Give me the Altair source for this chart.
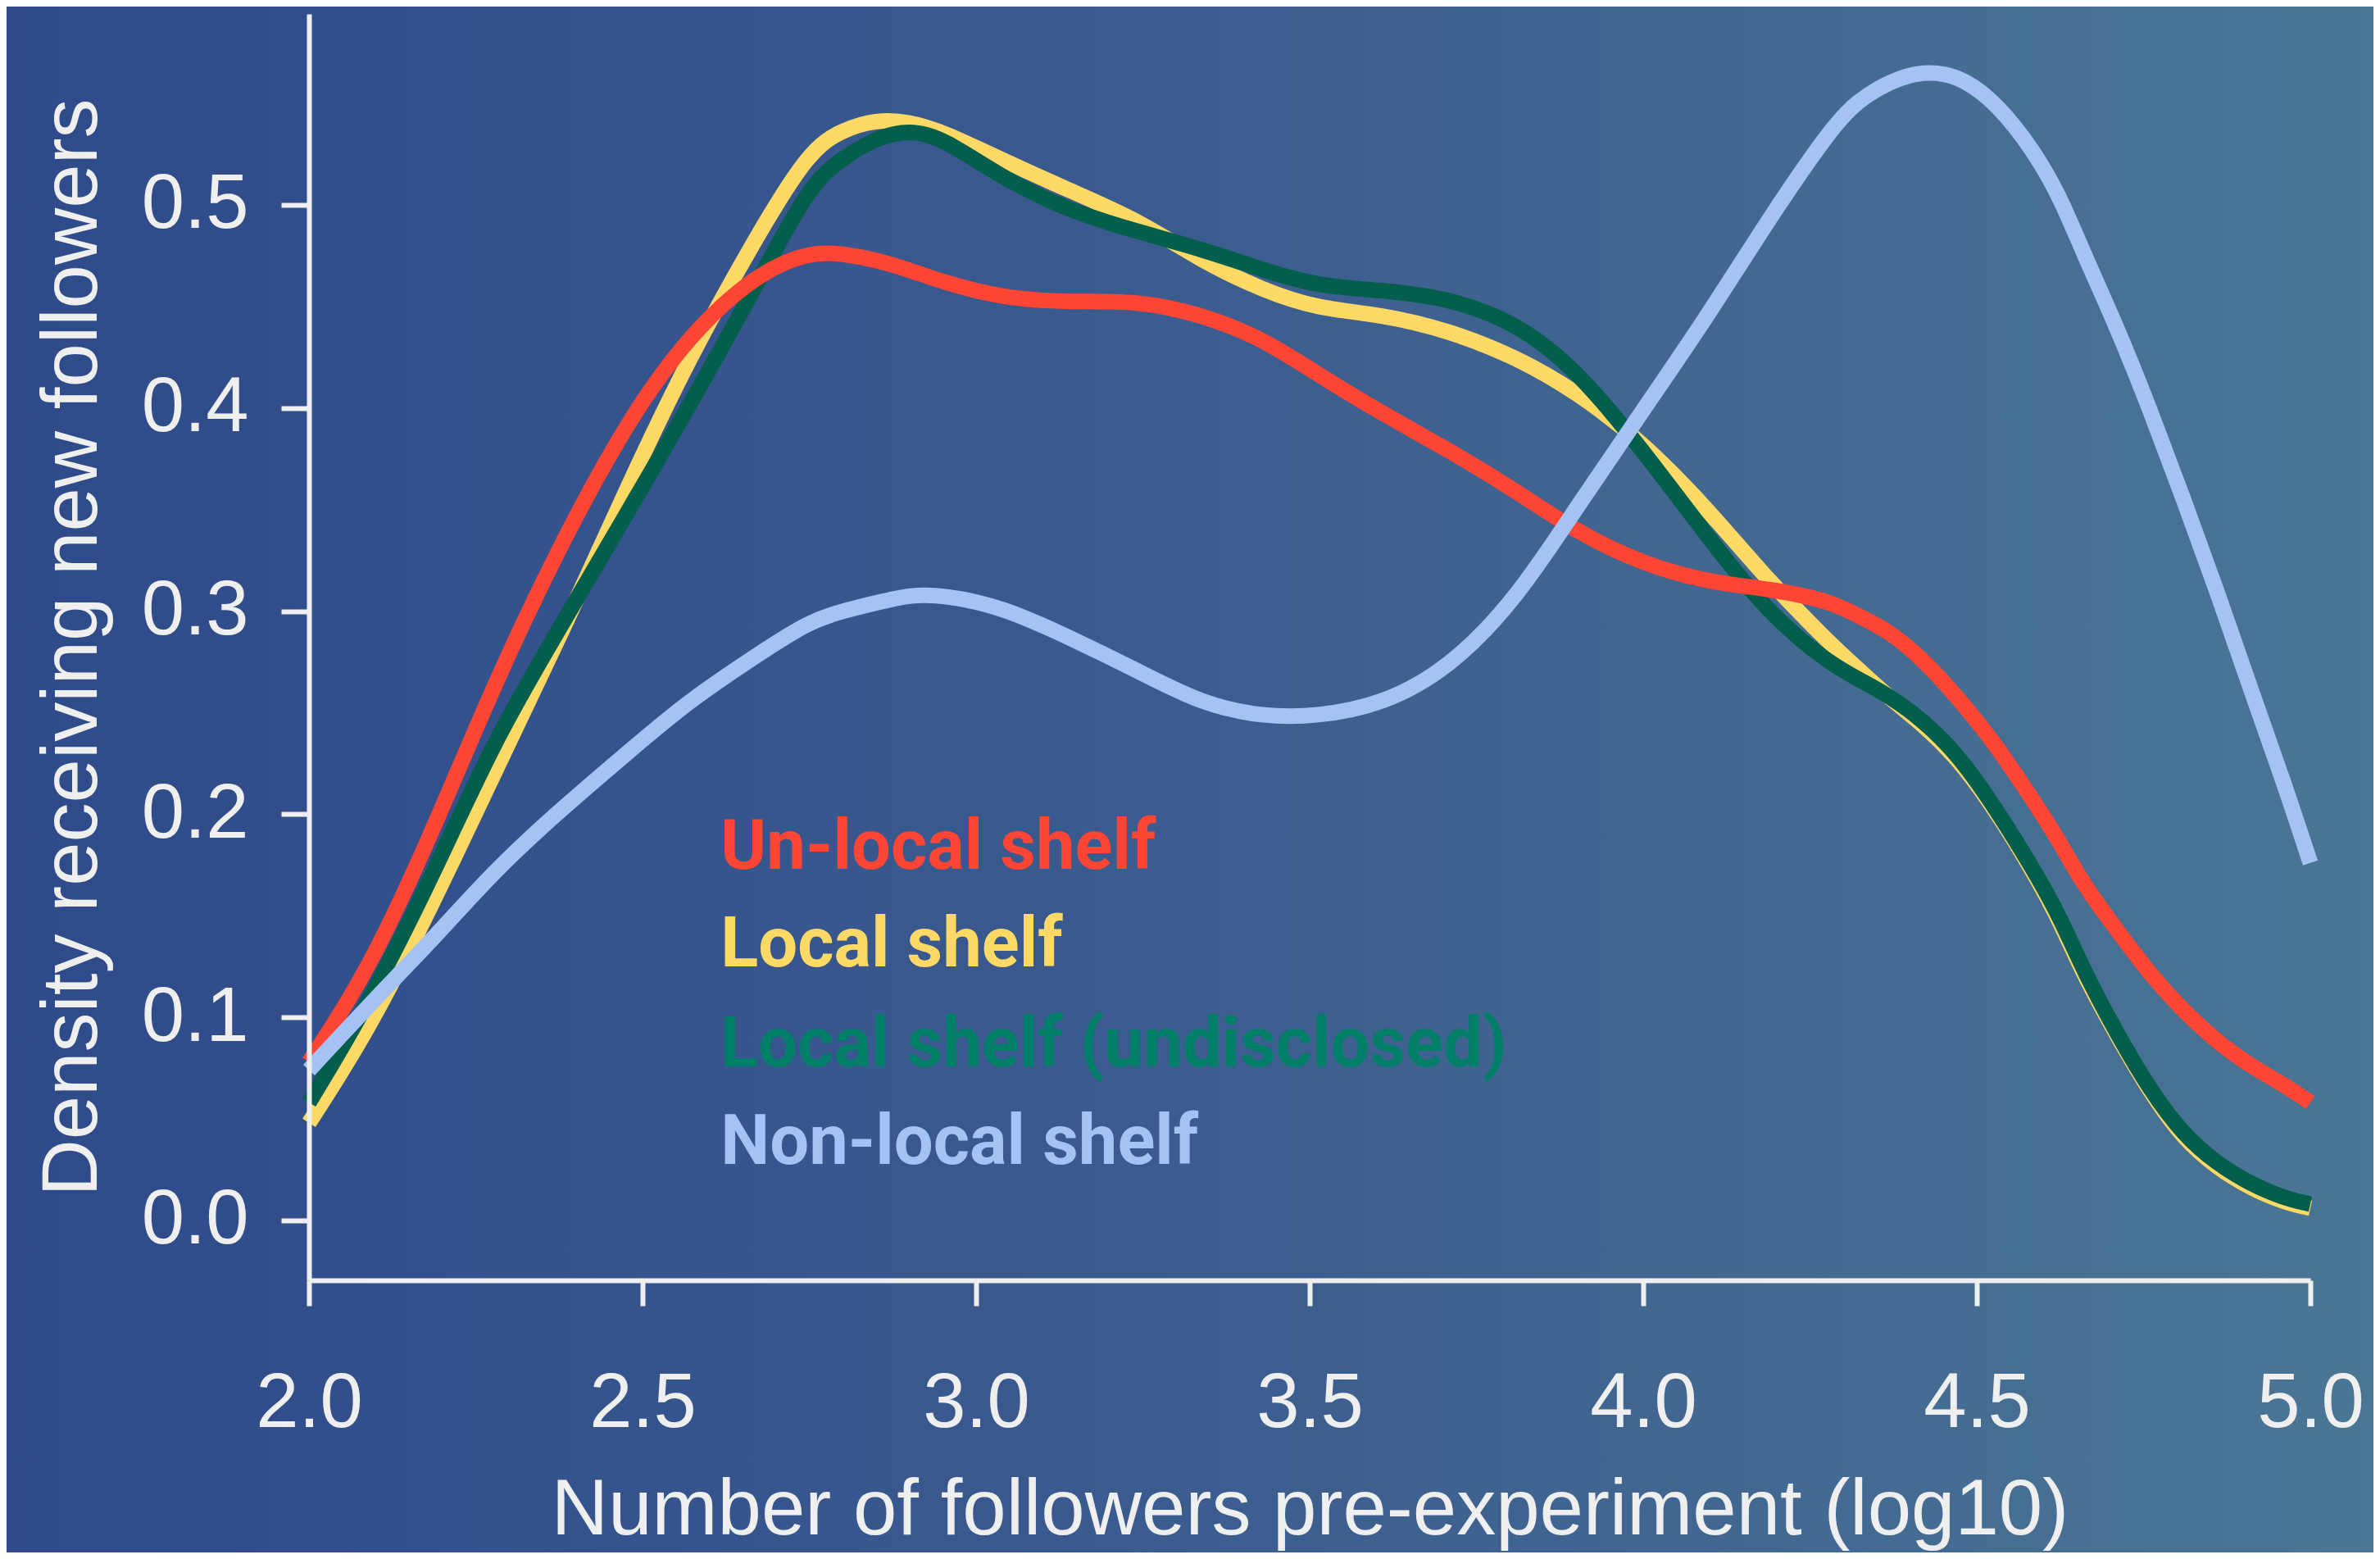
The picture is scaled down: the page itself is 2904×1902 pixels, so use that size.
import altair as alt
import pandas as pd

# ---- data ----
x_vals = [2.00, 2.09, 2.19, 2.28, 2.38, 2.48, 2.57, 2.67, 2.75,
          2.80, 2.85, 2.90, 2.95, 3.04, 3.14, 3.24, 3.34, 3.43, 3.51,
          3.61, 3.71, 3.81, 3.90, 4.00, 4.10, 4.19, 4.28,
          4.32, 4.37, 4.42, 4.47, 4.52, 4.57, 4.62, 4.66, 4.71, 4.76,
          4.81, 4.86, 4.91, 4.96, 5.00]

unlocal = [0.078, 0.123, 0.195, 0.266, 0.335, 0.395, 0.436, 0.466, 0.477,
           0.476, 0.473, 0.468, 0.462, 0.454, 0.452, 0.453, 0.446, 0.434, 0.417,
           0.397, 0.379, 0.359, 0.339, 0.323, 0.314, 0.311, 0.305,
           0.298, 0.290, 0.276, 0.258, 0.238, 0.214, 0.189, 0.165, 0.143, 0.121,
           0.103, 0.088, 0.076, 0.067, 0.058]

local = [0.048, 0.094, 0.159, 0.222, 0.290, 0.363, 0.425, 0.484, 0.527,
         0.537, 0.542, 0.541, 0.536, 0.522, 0.507, 0.493, 0.472, 0.458, 0.449,
         0.446, 0.438, 0.425, 0.408, 0.383, 0.349, 0.314, 0.284,
         0.272, 0.257, 0.244, 0.228, 0.206, 0.180, 0.151, 0.121, 0.091, 0.063,
         0.040, 0.026, 0.016, 0.009, 0.006]

local_undisclosed = [0.058, 0.107, 0.173, 0.238, 0.294, 0.350, 0.401, 0.460, 0.510,
                     0.523, 0.533, 0.537, 0.533, 0.513, 0.497, 0.487, 0.478, 0.468, 0.460,
                     0.458, 0.454, 0.442, 0.419, 0.379, 0.335, 0.298, 0.274,
                     0.267, 0.258, 0.246, 0.230, 0.207, 0.181, 0.153, 0.123, 0.092, 0.064,
                     0.042, 0.028, 0.018, 0.011, 0.008]

nonlocal_shelf = [0.074, 0.106, 0.140, 0.173, 0.203, 0.231, 0.256, 0.278, 0.295,
                  0.300, 0.304, 0.308, 0.308, 0.302, 0.287, 0.271, 0.254, 0.248, 0.248,
                  0.254, 0.272, 0.306, 0.351, 0.399, 0.447, 0.494, 0.537,
                  0.551, 0.561, 0.566, 0.564, 0.553, 0.534, 0.508, 0.476, 0.440, 0.399,
                  0.355, 0.310, 0.262, 0.216, 0.176]

series_names = ["Un-local shelf", "Local shelf", "Local shelf (undisclosed)", "Non-local shelf"]
series_values = [unlocal, local, local_undisclosed, nonlocal_shelf]
line_colors = ["#FF4533", "#FFD966", "#045E4C", "#A4C2F4"]
text_colors = ["#FF4533", "#FFD966", "#007F68", "#A4C2F4"]
draw_order = ["Local shelf", "Local shelf (undisclosed)", "Un-local shelf", "Non-local shelf"]

label_x = 2.617
label_y = [0.173, 0.125, 0.076, 0.028]

x_ticks = [2.0, 2.5, 3.0, 3.5, 4.0, 4.5, 5.0]
y_ticks = [0.0, 0.1, 0.2, 0.3, 0.4, 0.5]

# ---- layout ----
W, H = 2442, 1545
PAD = {"left": 369, "top": 9, "right": 77, "bottom": 332}
FG = "#EFEFEF"

x_scale = alt.Scale(domain=[2, 5], nice=False, zero=False)
y_scale = alt.Scale(domain=[-0.0295, 0.594], nice=False, zero=False)

x_axis = alt.Axis(title="Number of followers pre-experiment (log10)", values=x_ticks,
                  format=".1f", tickSize=31, labelPadding=73, titlePadding=36,
                  grid=False, zindex=1, labelFlush=False, labelOverlap=False)
y_axis = alt.Axis(title="Density receiving new followers", values=y_ticks,
                  format=".1f", tickSize=34, labelPadding=40, titlePadding=40,
                  grid=False, zindex=1, labelFlush=False, labelOverlap=False)

x_enc = alt.X("x:Q", scale=x_scale, axis=x_axis)
y_enc = alt.Y("v:Q", scale=y_scale, axis=y_axis)

# background gradient
grad = alt.Gradient(
    gradient="linear",
    stops=[alt.GradientStop(color="#2E4A8A", offset=0),
           alt.GradientStop(color="#3B5C8F", offset=0.5),
           alt.GradientStop(color="#4A7695", offset=1)],
    x1=0, x2=1, y1=0, y2=0,
)
bg = alt.Chart(pd.DataFrame({"a": [0]})).mark_rect(color=grad).encode(
    x=alt.value(-PAD["left"]), x2=alt.value(W + PAD["right"]),
    y=alt.value(-PAD["top"]), y2=alt.value(H + PAD["bottom"]),
)

layers = [bg]
for name in draw_order:
    i = series_names.index(name)
    df = pd.DataFrame({"x": x_vals, "v": series_values[i]})
    layers.append(
        alt.Chart(df).mark_line(
            color=line_colors[i], strokeWidth=19, strokeCap="butt",
            interpolate="basis",
        ).encode(x=x_enc, y=y_enc)
    )

labels_df = pd.DataFrame({
    "x": [label_x] * len(series_names),
    "v": label_y,
    "name": series_names,
    "tc": text_colors,
})
texts = alt.Chart(labels_df).mark_text(
    align="left", baseline="alphabetic", font="Roboto", fontSize=85, fontWeight="bold",
).encode(x=x_enc, y=y_enc, text="name:N", color=alt.Color("tc:N", scale=None))
layers.append(texts)

chart = alt.layer(*layers).properties(
    width=W, height=H,
    autosize=alt.AutoSizeParams(type="none"),
    padding=PAD,
    background="#2E4A8A",
).configure_view(stroke=None).configure_axis(
    domainColor=FG, domainWidth=6, tickColor=FG, tickWidth=6,
    labelColor=FG, labelFont="Liberation Sans", labelFontSize=94,
    titleColor=FG, titleFont="Liberation Sans", titleFontSize=96,
    titleFontWeight="normal",
)

chart.save("out.html", embed_options={"renderer": "svg", "actions": False})
